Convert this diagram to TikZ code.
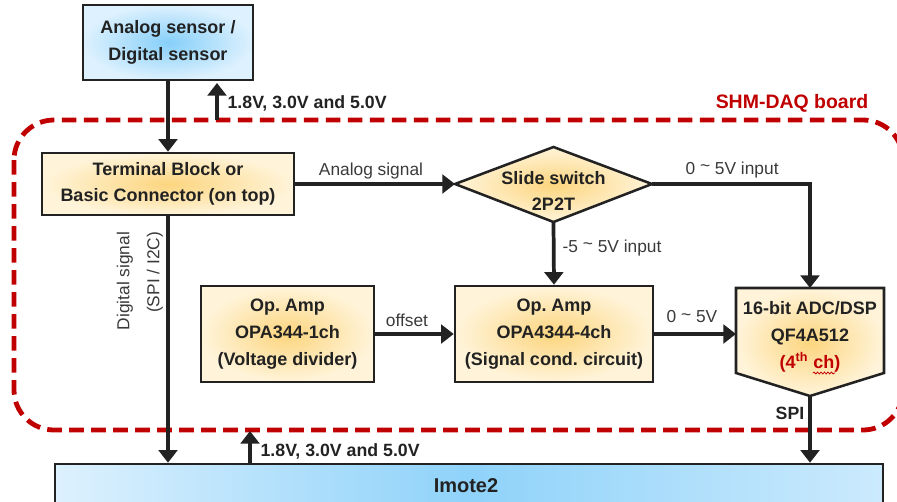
\documentclass[tikz,border=0pt]{standalone}
\usepackage{fontspec}
\setmainfont{Liberation Sans}
\usetikzlibrary{arrows.meta,shapes.geometric,decorations.pathmorphing}
\definecolor{dred}{HTML}{C00000}
\definecolor{txt}{HTML}{222222}
\definecolor{lblc}{HTML}{3A3A3A}
\definecolor{yin}{HTML}{FCD57E}
\definecolor{yout}{HTML}{FFF4DA}
\definecolor{bin}{HTML}{86CFF9}
\definecolor{bout}{HTML}{DDF1FE}
\frenchspacing
\begin{document}
\begin{tikzpicture}[x=0.75pt,y=-0.75pt,
  box/.style={draw=txt, line width=1.9pt, inner sep=0pt, align=center,
    font=\bfseries\fontsize{13.5}{20}\selectfont, text=txt},
  ybox/.style={box, inner color=yin, outer color=yout},
  bbox/.style={box, inner color=bin, outer color=bout},
  arr/.style={draw=txt, line width=2.8pt, -{Triangle[length=9.5pt,width=14pt]}},
  lbl/.style={font=\fontsize{13}{22.5}\selectfont, text=lblc, inner sep=1pt},
  blbl/.style={font=\bfseries\fontsize{13.3}{16}\selectfont, text=txt, inner sep=1pt},
  board/.style={draw=dred, line width=3.6pt, dash pattern=on 11pt off 5.5pt, rounded corners=30pt},
]
\useasboundingbox (0,0) rectangle (897,501);

% board outline
\draw[board] (14,120) rectangle (903,430);
\node[font=\bfseries\fontsize{14.6}{16}\selectfont, text=dred] (boardlbl) at (792,103) {SHM-DAQ board};

% nodes
\node[bbox, minimum width=127.5pt, minimum height=56.25pt] (sensor) at (168,42.5) {Analog sensor /\\Digital sensor};
\node[ybox, minimum width=189pt, minimum height=46.5pt] (term) at (168,184) {Terminal Block or\\Basic Connector (on top)};

% slide switch diamond
\coordinate (swl) at (455,184);
\coordinate (swr) at (652,184);
\coordinate (swt) at (553.5,147);
\coordinate (swb) at (553.5,222);
\draw[draw=txt, line width=1.9pt, inner color=yin, outer color=yout, line join=miter]
  (swl) -- (swt) -- (swr) -- (swb) -- cycle;
\node[box, draw=none] (sw) at (553.5,191) {Slide switch\\2P2T};

\node[ybox, minimum width=129.75pt, minimum height=72pt] (opa1) at (287.5,334) {Op. Amp\\OPA344-1ch\\(Voltage divider)};
\node[ybox, minimum width=148.5pt, minimum height=72pt] (opa4) at (554,334) {Op. Amp\\OPA4344-4ch\\(Signal cond. circuit)};

% ADC pentagon
\draw[draw=txt, line width=1.9pt, inner color=yin, outer color=yout]
  (736,288) -- (884,288) -- (884,373) -- (810,396) -- (736,373) -- cycle;
\coordinate (adctop) at (810,288);
\coordinate (adcbot) at (810,396);
\coordinate (adcleft) at (736,334);
\node[box, draw=none] (adc) at (810,337) {16-bit ADC/DSP\\QF4A512\\\textcolor{dred}{(4\textsuperscript{th} ch)}};
\draw[dred, line width=0.6pt, decorate, decoration={snake, amplitude=0.7pt, segment length=2.6pt}] (813,373) -- (835,373);

% Imote2
\node[box, left color=bout, right color=bout!80!bin, middle color=bin!90!bout, minimum width=621pt, minimum height=45pt] (imote) at (469,494) {};
\node[font=\bfseries\fontsize{15}{18}\selectfont, text=txt] (imotetxt) at (466,486) {Imote2};

% power arrows
\coordinate (pw1) at (217,120);
\coordinate (pw1t) at (217,83);
\draw[arr] (pw1) -- (pw1t);
\node[blbl, anchor=west] (pw1lbl) at (226,103) {1.8V, 3.0V and 5.0V};
\coordinate (pw2t) at (250,431);
\draw[arr] (imote.north -| pw2t) -- (pw2t);
\node[blbl, anchor=west] (pw2lbl) at (259,451) {1.8V, 3.0V and 5.0V};

% connectors
\draw[arr] (sensor) -- (term);
\draw[arr] (term.east) -- (swl);
\draw[arr] (swr) -| (adctop);
\draw[arr] (swb) -- (opa4.north);
\draw[arr] (opa1.east) -- (opa4.west);
\draw[arr] (opa4.east) -- (adcleft);
\draw[arr] (adcbot) -- (imote.north -| adcbot);
\draw[arr] (term.south) -- (term.south |- imote.north);

% labels
\node[lbl] (lanalog) at (371,171) {Analog signal};
\node[lbl, anchor=west] (l05in) at (684,170) {0 \raisebox{0.3ex}{\textasciitilde} 5V input};
\node[lbl, anchor=west] (lm5in) at (561,248) {-5 \raisebox{0.3ex}{\textasciitilde} 5V input};
\node[lbl] (loffset) at (407,320) {offset};
\node[lbl] (l05) at (692,317) {0 \raisebox{0.3ex}{\textasciitilde} 5V};
\node[blbl] (lspi) at (790,413) {SPI};
\node[lbl, rotate=90, align=right] (ldig) at (140,281) {Digital signal\\(SPI / I2C)};
\end{tikzpicture}
\end{document}
